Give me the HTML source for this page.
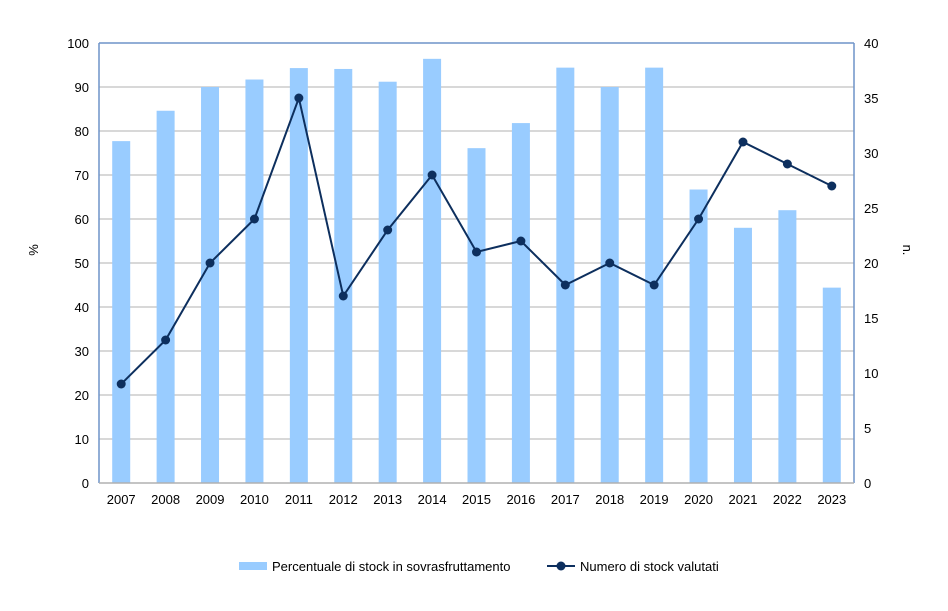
<!DOCTYPE html>
<html><head><meta charset="utf-8"><style>
html,body{margin:0;padding:0;background:#fff;width:948px;height:611px;overflow:hidden}
text{font-family:"Liberation Sans",Arial,sans-serif;font-size:13px;fill:#000}
</style></head><body>
<svg id="c" width="948" height="611" xmlns="http://www.w3.org/2000/svg"></svg>
<script>
var s=document.getElementById('c'),h='';
var L=99,R=854,T=43,B=483,W=R-L,H=B-T,n=17,sw=W/n;
var bars=[77.7,84.6,90,91.7,94.3,94.1,91.2,96.4,76.1,81.8,94.4,90,94.4,66.7,58,62,44.4];
var line=[9,13,20,24,35,17,23,28,21,22,18,20,18,24,31,29,27];
for(var v=0;v<=100;v+=10){var y=B-H*v/100;
 if(v>0&&v<100)h+='<line x1="'+L+'" x2="'+R+'" y1="'+y+'" y2="'+y+'" stroke="#b0b0b0" stroke-width="1"/>';
 h+='<text x="'+(L-10)+'" y="'+(y+5)+'" text-anchor="end">'+v+'</text>';}
for(var v=0;v<=40;v+=5){var y=B-H*v/40;h+='<text x="'+(R+10)+'" y="'+(y+5)+'">'+v+'</text>';}
for(var i=0;i<n;i++){var cx=L+sw*(i+.5),y=B-H*bars[i]/100;
 h+='<rect x="'+(cx-9)+'" y="'+y+'" width="18" height="'+(B-y)+'" fill="#99ccff"/>';
 h+='<text x="'+cx+'" y="'+(B+21)+'" text-anchor="middle">'+(2007+i)+'</text>';}
var p='';for(var i=0;i<n;i++){p+=(L+sw*(i+.5))+','+(B-H*line[i]/40)+' ';}
h+='<polyline points="'+p+'" fill="none" stroke="#0d2f5e" stroke-width="2"/>';
for(var i=0;i<n;i++)h+='<circle cx="'+(L+sw*(i+.5))+'" cy="'+(B-H*line[i]/40)+'" r="4.5" fill="#0d2f5e"/>';
h+='<line x1="'+L+'" x2="'+L+'" y1="'+T+'" y2="'+B+'" stroke="#6f94c8" stroke-width="1.5"/>';
h+='<line x1="'+R+'" x2="'+R+'" y1="'+T+'" y2="'+B+'" stroke="#6f94c8" stroke-width="1.5"/>';
h+='<line x1="'+L+'" x2="'+R+'" y1="'+T+'" y2="'+T+'" stroke="#6f94c8" stroke-width="1.5"/>';
h+='<line x1="'+L+'" x2="'+R+'" y1="'+B+'" y2="'+B+'" stroke="#b0b0b0" stroke-width="1.5"/>';
h+='<text transform="translate(38,250) rotate(-90)" text-anchor="middle">%</text>';
h+='<text transform="translate(903,250) rotate(90)" text-anchor="middle">n.</text>';
h+='<rect x="239" y="562" width="28" height="8" fill="#99ccff"/>';
h+='<text x="272" y="571">Percentuale  di stock in sovrasfruttamento</text>';
h+='<line x1="547" x2="575" y1="566" y2="566" stroke="#0d2f5e" stroke-width="2"/><circle cx="561" cy="566" r="4.5" fill="#0d2f5e"/>';
h+='<text x="580" y="571">Numero di stock valutati</text>';
s.innerHTML=h;
</script>
</body></html>
